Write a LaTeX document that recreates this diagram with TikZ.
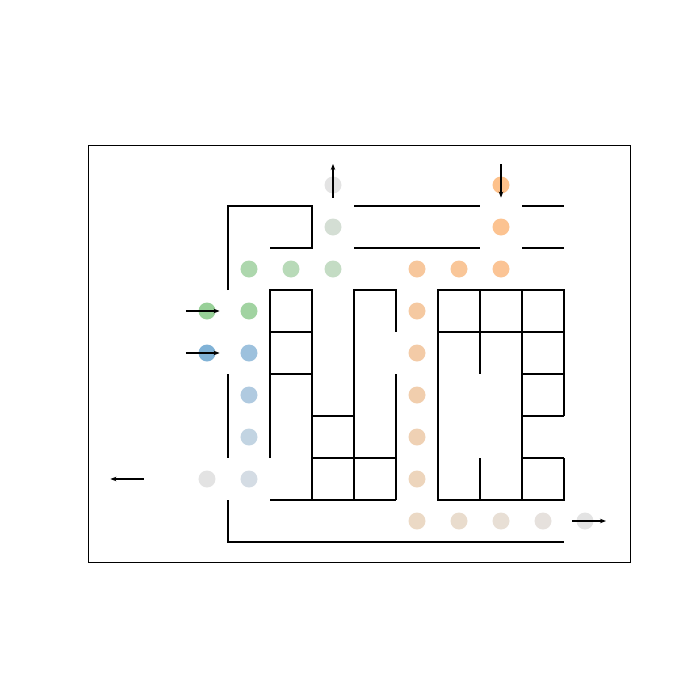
\documentclass[tikz,border=0pt]{standalone}
\usetikzlibrary{arrows.meta}
\definecolor{g0}{HTML}{E3E3E3}
\definecolor{g1}{HTML}{D4DED4}
\definecolor{g2}{HTML}{C4DCC4}
\definecolor{g3}{HTML}{B8DAB8}
\definecolor{g4}{HTML}{ADD7AD}
\definecolor{g5}{HTML}{A1D3A1}
\definecolor{gs}{HTML}{98D098}
\definecolor{bs}{HTML}{80B2D6}
\definecolor{b1}{HTML}{9DC1DD}
\definecolor{b2}{HTML}{B0CAE0}
\definecolor{b3}{HTML}{C2D4E2}
\definecolor{b4}{HTML}{D4DCE4}
\definecolor{o0}{HTML}{FDC18B}
\definecolor{o1}{HTML}{FCC391}
\definecolor{o2}{HTML}{FBC495}
\definecolor{o3}{HTML}{F9C698}
\definecolor{o4}{HTML}{F7C79C}
\definecolor{o5}{HTML}{F5C9A1}
\definecolor{o6}{HTML}{F3CBA7}
\definecolor{o7}{HTML}{F1CEAD}
\definecolor{o8}{HTML}{EFD1B4}
\definecolor{o9}{HTML}{EDD5BC}
\definecolor{o10}{HTML}{EBD9C5}
\definecolor{o11}{HTML}{E9DCCD}
\definecolor{o12}{HTML}{E8DFD5}
\definecolor{o13}{HTML}{E6E1DD}
\tikzset{
  dot/.style={circle,fill=#1,draw=none,minimum size=17pt,inner sep=0pt},
  wall/.style={line width=1.8pt},
  mv/.style={line width=1.2pt,-{Stealth[length=6pt,width=4.5pt]}},
}
\begin{document}
\begin{tikzpicture}[x=42pt,y=-42pt]
\useasboundingbox (-4.9286,-4.4048) rectangle (11.7381,12.2619);
\draw[line width=0.8pt] (-2.833,-0.952) rectangle (10.071,8.976);
% dots
\node[dot=g0] (a30) at (3,0) {};
\node[dot=g1] (a31) at (3,1) {};
\node[dot=g2] (a32) at (3,2) {};
\node[dot=g3] (a22) at (2,2) {};
\node[dot=g4] (a12) at (1,2) {};
\node[dot=g5] (a13) at (1,3) {};
\node[dot=gs] (a03) at (0,3) {};
\node[dot=bs] (a04) at (0,4) {};
\node[dot=b1] (a14) at (1,4) {};
\node[dot=b2] (a15) at (1,5) {};
\node[dot=b3] (a16) at (1,6) {};
\node[dot=b4] (a17) at (1,7) {};
\node[dot=g0] (a07) at (0,7) {};
\node[dot=o0] (a70) at (7,0) {};
\node[dot=o1] (a71) at (7,1) {};
\node[dot=o2] (a72) at (7,2) {};
\node[dot=o3] (a62) at (6,2) {};
\node[dot=o4] (a52) at (5,2) {};
\node[dot=o5] (a53) at (5,3) {};
\node[dot=o6] (a54) at (5,4) {};
\node[dot=o7] (a55) at (5,5) {};
\node[dot=o8] (a56) at (5,6) {};
\node[dot=o9] (a57) at (5,7) {};
\node[dot=o10] (a58) at (5,8) {};
\node[dot=o11] (a68) at (6,8) {};
\node[dot=o12] (a78) at (7,8) {};
\node[dot=o13] (a88) at (8,8) {};
\node[dot=g0] (a98) at (9,8) {};
% walls
\draw[wall] (0.5,2.5) -- (0.5,0.5) -- (2.5,0.5) -- (2.5,1.5) -- (1.5,1.5);
\draw[wall] (0.5,4.5) -- (0.5,6.5);
\draw[wall] (0.5,7.5) -- (0.5,8.5) -- (8.5,8.5);
\draw[wall] (3.5,0.5) -- (6.5,0.5) (7.5,0.5) -- (8.5,0.5);
\draw[wall] (3.5,1.5) -- (6.5,1.5) (7.5,1.5) -- (8.5,1.5);
\draw[wall] (1.5,6.5) -- (1.5,2.5) -- (2.5,2.5) -- (2.5,7.5);
\draw[wall] (1.5,3.5) -- (2.5,3.5) (1.5,4.5) -- (2.5,4.5);
\draw[wall] (2.5,5.5) -- (3.5,5.5) (2.5,6.5) -- (4.5,6.5) (1.5,7.5) -- (4.5,7.5);
\draw[wall] (3.5,7.5) -- (3.5,2.5) -- (4.5,2.5) -- (4.5,3.5);
\draw[wall] (4.5,4.5) -- (4.5,7.5);
\draw[wall] (8.5,5.5) -- (8.5,2.5) -- (5.5,2.5) -- (5.5,7.5) -- (8.5,7.5) -- (8.5,6.5);
\draw[wall] (5.5,3.5) -- (8.5,3.5) (6.5,2.5) -- (6.5,4.5) (6.5,6.5) -- (6.5,7.5) (7.5,2.5) -- (7.5,7.5);
\draw[wall] (7.5,4.5) -- (8.5,4.5) (7.5,5.5) -- (8.5,5.5) (7.5,6.5) -- (8.5,6.5);
% arrows
\coordinate (u0) at (3,0.3); \coordinate (u1) at (3,-0.5);
\coordinate (d0) at (7,-0.5); \coordinate (d1) at (7,0.3);
\coordinate (r30) at (-0.5,3); \coordinate (r31) at (0.3,3);
\coordinate (r40) at (-0.5,4); \coordinate (r41) at (0.3,4);
\coordinate (l0) at (-1.5,7); \coordinate (l1) at (-2.3,7);
\coordinate (e0) at (8.7,8); \coordinate (e1) at (9.5,8);
\draw[mv] (u0) -- (u1);
\draw[mv] (d0) -- (d1);
\draw[mv] (r30) -- (r31);
\draw[mv] (r40) -- (r41);
\draw[mv] (l0) -- (l1);
\draw[mv] (e0) -- (e1);
\end{tikzpicture}
\end{document}
